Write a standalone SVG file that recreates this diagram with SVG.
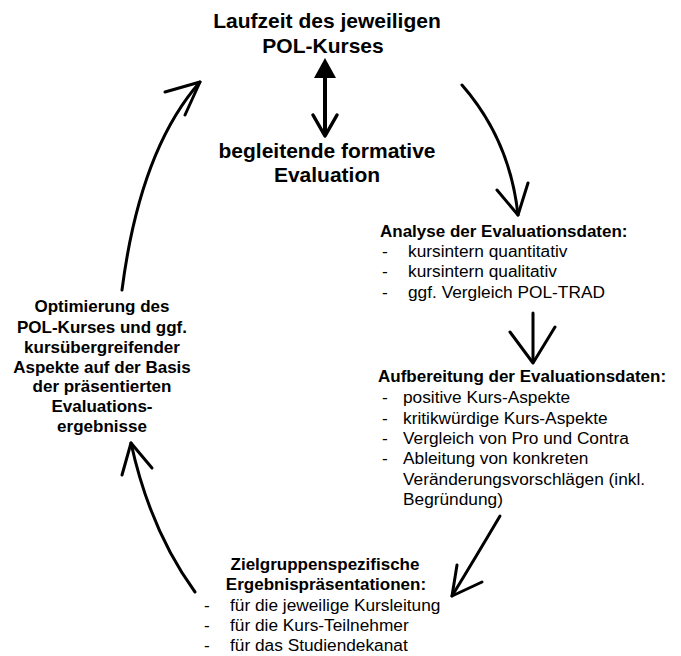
<svg xmlns="http://www.w3.org/2000/svg" width="681" height="656" viewBox="0 0 681 656">
<style>
text{font-family:"Liberation Sans",Arial,sans-serif;fill:#000}
.t{font-size:21px;font-weight:bold}
.h{font-size:17px;font-weight:bold}
.r{font-size:17.3px}
.c{text-anchor:middle}
.ln{fill:none;stroke:#000;stroke-width:3;stroke-linecap:round;stroke-linejoin:round}
</style>
<rect width="681" height="656" fill="#fff"/>
<g id="connectors">
<line class="ln" x1="325" y1="74" x2="325" y2="134" style="stroke-width:4"/>
<polygon points="325,58 314,78 336,78" fill="#000"/>
<polyline class="ln" points="313,115 325,136 337,115" style="stroke-width:3.5"/>
<path class="ln" d="M462,85 Q510,140 518,215"/>
<polyline class="ln" points="497,190 518,215 528,183"/>
<line class="ln" x1="533" y1="313" x2="533" y2="362"/>
<polyline class="ln" points="510,332 533,363 555,327"/>
<path class="ln" d="M500,516 Q474,560 452,596"/>
<polyline class="ln" points="457,565 452,596 482,582"/>
<path class="ln" d="M195,592 Q150,530 131,443"/>
<polyline class="ln" points="122,475 131,443 152,468"/>
<path class="ln" d="M122,290 Q140,150 200,82"/>
<polyline class="ln" points="165,92 200,82 185,115"/>
</g>
<g id="laufzeit">
<text class="t c" x="327" y="28">Laufzeit des jeweiligen</text>
<text class="t c" x="323" y="53">POL-Kurses</text>
</g>
<g id="begleitende">
<text class="t c" x="327" y="158">begleitende formative</text>
<text class="t c" x="327" y="182">Evaluation</text>
</g>
<g id="analyse">
<text class="h" x="380" y="237">Analyse der Evaluationsdaten:</text>
<text class="r" x="382" y="257">-</text><text class="r" x="408" y="257">kursintern quantitativ</text>
<text class="r" x="382" y="277">-</text><text class="r" x="408" y="277">kursintern qualitativ</text>
<text class="r" x="382" y="298">-</text><text class="r" x="408" y="298">ggf. Vergleich POL-TRAD</text>
</g>
<g id="aufbereitung">
<text class="h" x="378" y="382">Aufbereitung der Evaluationsdaten:</text>
<text class="r" x="382" y="403">-</text><text class="r" x="403" y="403">positive Kurs-Aspekte</text>
<text class="r" x="382" y="424">-</text><text class="r" x="403" y="424">kritikwürdige Kurs-Aspekte</text>
<text class="r" x="382" y="444">-</text><text class="r" x="403" y="444">Vergleich von Pro und Contra</text>
<text class="r" x="382" y="464">-</text><text class="r" x="403" y="464">Ableitung von konkreten</text>
<text class="r" x="403" y="485">Veränderungsvorschlägen (inkl.</text>
<text class="r" x="403" y="505">Begründung)</text>
</g>
<g id="zielgruppen">
<text class="h c" x="325" y="570">Zielgruppenspezifische</text>
<text class="h c" x="326" y="590">Ergebnispräsentationen:</text>
<text class="r" x="204" y="611">-</text><text class="r" x="230" y="611">für die jeweilige Kursleitung</text>
<text class="r" x="204" y="631">-</text><text class="r" x="230" y="631">für die Kurs-Teilnehmer</text>
<text class="r" x="204" y="651">-</text><text class="r" x="230" y="651">für das Studiendekanat</text>
</g>
<g id="optimierung">
<text class="h c" x="102" y="312">Optimierung des</text>
<text class="h c" x="102" y="333">POL-Kurses und ggf.</text>
<text class="h c" x="102" y="353">kursübergreifender</text>
<text class="h c" x="102" y="373">Aspekte auf der Basis</text>
<text class="h c" x="102" y="392">der präsentierten</text>
<text class="h c" x="102" y="412">Evaluations-</text>
<text class="h c" x="102" y="432">ergebnisse</text>
</g>
</svg>
